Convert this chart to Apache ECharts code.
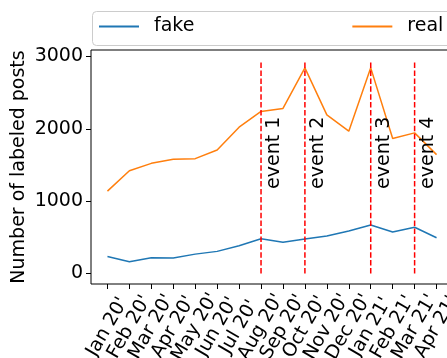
<!DOCTYPE html>
<html><head><meta charset="utf-8">
<script src="https://cdn.jsdelivr.net/npm/echarts@6/dist/echarts.min.js"></script>
<style>html,body{margin:0;padding:0;background:#fff}#c{width:447px;height:358px}</style>
</head><body><div id="c"></div><script>
const categories = ["Jan 20'","Feb 20'","Mar 20'","Apr 20'","May 20'","Jun 20'","Jul 20'","Aug 20'","Sep 20'","Oct 20'","Nov 20'","Dec 20'","Jan 21'","Feb 21'","Mar 21'","Apr 21'"];
const fakeCounts = [236,162,218,213,268,306,384,481,431,477,519,588,671,574,639,495];
const realCounts = [1139,1421,1523,1579,1588,1708,2023,2241,2282,2843,2194,1968,2843,1866,1944,1644];
const eventIndex = [7,9,12,14];
const eventNames = ['event 1','event 2','event 3','event 4'];
const eventLineTop = 2930;
const eventLabelBase = 1170;
const yTicks = [0,1000,2000,3000];
const xTicks = categories.map((c,i)=>i);
const X_MIN = -0.75, X_MAX = 15.75;

const FONT = 'DejaVu Sans';
const chart = echarts.init(document.getElementById('c'), null, {renderer:'canvas'});
chart.setOption({
  animation:false,
  backgroundColor:'#fff',
  textStyle:{fontFamily:FONT},
  graphic:[{type:'rect', left:92, top:11, shape:{x:0,y:0,width:370,height:34,r:4}, style:{fill:'rgba(255,255,255,0.8)', stroke:'#cccccc', lineWidth:1}, z:-1}],
  legend:{
    data:['fake','real'], icon:'rect', itemWidth:40, itemHeight:2, left:99, top:17, padding:0, itemGap:158,
    textStyle:{fontSize:19, color:'#000', fontFamily:FONT, padding:[0,0,0,10]}
  },
  grid:{left:91, width:362, top:50, height:234, show:true, borderColor:'#000', borderWidth:1, backgroundColor:'transparent', containLabel:false, outerBoundsMode:'none'},
  xAxis:{
    type:'value', min:X_MIN, max:X_MAX,
    axisLine:{show:false, onZero:false},
    axisTick:{show:true, customValues:xTicks, length:5, lineStyle:{color:'#000'}},
    axisLabel:{customValues:[X_MIN].concat(xTicks, [X_MAX]), formatter:v=>(Number.isInteger(v)?categories[v]:''), rotate:60, align:'center', verticalAlign:'middle', margin:43, fontSize:19, color:'#000', fontFamily:FONT, hideOverlap:false},
    splitLine:{show:false}
  },
  yAxis:{
    type:'value', min:-145, max:3090,
    name:'Number of labeled posts', nameLocation:'middle', nameGap:62, nameMoveOverlap:false,
    nameTextStyle:{fontSize:19, color:'#000', fontFamily:FONT},
    axisLine:{show:false, onZero:false},
    axisTick:{show:true, customValues:yTicks, length:5, lineStyle:{color:'#000'}},
    axisLabel:{customValues:yTicks, formatter:v=>String(v), margin:8, fontSize:19, color:'#000', fontFamily:FONT, showMinLabel:true, showMaxLabel:true},
    splitLine:{show:false}
  },
  series:[
    {name:'fake', type:'line', data:fakeCounts.map((v,i)=>[i,v]), symbol:'none', color:'#1f77b4', lineStyle:{width:1.5, color:'#1f77b4'}, z:3},
    {name:'real', type:'line', data:realCounts.map((v,i)=>[i,v]), symbol:'none', color:'#ff7f0e', lineStyle:{width:1.5, color:'#ff7f0e'}, z:3},
    {name:'events', type:'custom', data:eventIndex.map((x,i)=>[x,eventLineTop,i]), z:4,
     renderItem:function(params, api){
       const x = api.value(0), k = api.value(2);
       const p0 = api.coord([x,0]), p1 = api.coord([x,api.value(1)]), pl = api.coord([x,eventLabelBase]);
       return {type:'group', children:[
         {type:'line', shape:{x1:p0[0],y1:p0[1],x2:p1[0],y2:p1[1]}, style:{stroke:'#ff0000', lineWidth:1.5, lineDash:[5.5,2.4]}},
         {type:'text', x:pl[0]+13.5, y:pl[1], rotation:Math.PI/2, style:{text:eventNames[k], fontSize:19, fontFamily:FONT, fill:'#000', align:'left', verticalAlign:'middle'}}
       ]};
     }}
  ]
});
</script></body></html>
